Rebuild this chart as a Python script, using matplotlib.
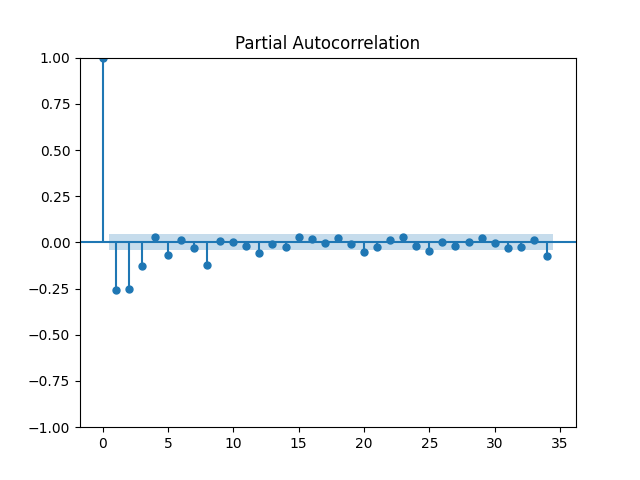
import matplotlib.pyplot as plt
import numpy as np

lags = np.arange(0, 35)
pacf_vals = [1.0, -0.26, -0.25, -0.127, 0.03, -0.068, 0.013, -0.03, -0.12, 0.008,
             0.003, -0.02, -0.057, -0.008, -0.024, 0.03, 0.018, -0.003, 0.024, -0.01,
             -0.052, -0.024, 0.015, 0.03, -0.022, -0.045, 0.003, -0.022, 0.002, 0.024,
             -0.003, -0.03, -0.024, 0.013, -0.072]
conf = 0.043

fig, ax = plt.subplots(figsize=(6.4, 4.8))

ax.vlines(lags, [0], pacf_vals, color='C0')
ax.axhline(0, color='C0', linewidth=1.5)
ax.plot(lags, pacf_vals, marker='o', markersize=5, linestyle='None', color='C0')

band_x = lags[1:].astype(float)
band_x[0] -= 0.5
band_x[-1] += 0.5
ax.fill_between(band_x, -conf, conf, alpha=0.25, color='C0', linewidth=0)

ax.set_ylim(-1, 1)
ax.set_title('Partial Autocorrelation')

plt.savefig('out.png')
